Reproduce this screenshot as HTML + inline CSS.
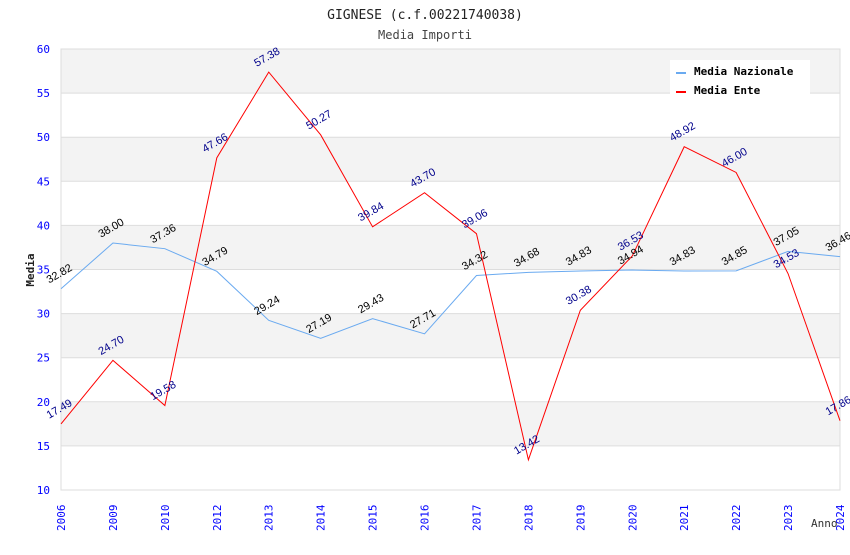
<!DOCTYPE html>
<html><head><meta charset="utf-8"><style>
body{margin:0;background:#fff}
svg text{font-family:"DejaVu Sans Mono","Liberation Mono",monospace}
svg text.lab{font-family:"Liberation Sans",sans-serif}
</style></head><body>
<svg id="c" width="850" height="550" viewBox="0 0 850 550" xmlns="http://www.w3.org/2000/svg">
<text x="425" y="19" text-anchor="middle" font-size="13" fill="#222">GIGNESE (c.f.00221740038)</text>
<text x="425" y="39" text-anchor="middle" font-size="12" fill="#444">Media Importi</text>
<g id="bands"></g><g id="yt"></g><g id="xt"></g><g id="lines"></g><g id="labels"></g>
<text x="34" y="270" transform="rotate(-90 34 270)" text-anchor="middle" font-size="11" font-weight="bold" fill="#222">Media</text>
<text x="811" y="527" font-size="11" fill="#333">Anno</text>
<g>
<rect x="670" y="60" width="140" height="36" fill="#fff"/>
<rect x="676" y="72" width="10" height="2" fill="#6aaaf0"/>
<text x="694" y="75" font-size="11" font-weight="bold" fill="#000">Media Nazionale</text>
<rect x="676" y="91" width="10" height="2" fill="#f00"/>
<text x="694" y="94" font-size="11" font-weight="bold" fill="#000">Media Ente</text>
</g>
</svg>
<script>
const cats=["2006","2009","2010","2012","2013","2014","2015","2016","2017","2018","2019","2020","2021","2022","2023","2024"];
const nazionale=[32.82,38.00,37.36,34.79,29.24,27.19,29.43,27.71,34.32,34.68,34.83,34.94,34.83,34.85,37.05,36.46];
const ente=[17.49,24.70,19.58,47.66,57.38,50.27,39.84,43.70,39.06,13.42,30.38,36.53,48.92,46.00,34.53,17.86];
const yTicks=[10,15,20,25,30,35,40,45,50,55,60];
const X0=61,X1=840,Y0=490,Y1=49;
const ns="http://www.w3.org/2000/svg";
const xs=i=>X0+(X1-X0)*i/(cats.length-1);
const ys=v=>Y0-(v-10)/(60-10)*(Y0-Y1);
function mk(t,a,p){const e=document.createElementNS(ns,t);for(const k in a)e.setAttribute(k,a[k]);document.getElementById(p).appendChild(e);return e;}
for(let i=0;i<yTicks.length-1;i++){
 const r=mk('rect',{x:X0,y:ys(yTicks[i+1]),width:X1-X0,height:ys(yTicks[i])-ys(yTicks[i+1]),fill:(i%2==1)?'#f3f3f3':'#fff'},'bands');
 
 
}
yTicks.forEach(v=>{
 const l=mk('line',{x1:X0,x2:X1,y1:ys(v),y2:ys(v),stroke:'#ddd'},'yt');
 
 
 const t=mk('text',{x:50,y:ys(v)+4,'text-anchor':'end','font-size':11,fill:'#00f'},'yt');t.textContent=v;
 
 
});
const fr=mk('rect',{x:X0,y:Y1,width:X1-X0,height:Y0-Y1,fill:'none',stroke:'#ddd'},'yt');


cats.forEach((c,i)=>{
 const x=xs(i)+4;const t=mk('text',{x:x,y:531,transform:`rotate(-90 ${x} 531)`,'font-size':11,fill:'#00f'},'xt');t.textContent=c;
 
 
});
function series(d,col,lc,name){
 const p=mk('polyline',{points:d.map((v,i)=>xs(i)+','+ys(v)).join(' '),fill:'none',stroke:col,'stroke-width':1},'lines');
 
 
 d.forEach((v,i)=>{const x=xs(i),y=ys(v)-12;
  const t=mk('text',{x:x,y:y,class:'lab','text-anchor':'middle',transform:`rotate(-30 ${x} ${y})`,'font-size':11,fill:lc},'labels');t.textContent=v.toFixed(2);
  
  
 });
}
series(nazionale,'#6aaaf0','#000','nazionale');
series(ente,'#f00','#00008b','ente');
</script>
</body></html>
